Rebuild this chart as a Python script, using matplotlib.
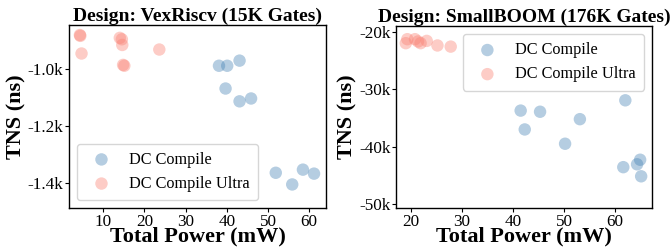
import numpy as np
import matplotlib
matplotlib.use("Agg")
import matplotlib.pyplot as plt
from matplotlib.ticker import FuncFormatter

plt.rcParams["font.family"] = ["Liberation Serif", "DejaVu Serif"]

# ---------------------------------------------------------------------------
# Data
# ---------------------------------------------------------------------------
VEX_DC_POWER = [38.1, 40.1, 43.1, 39.7, 43.1, 45.9, 51.9, 55.9, 58.5, 61.2]
VEX_DC_TNS = [-988, -988, -970, -1068, -1113, -1103, -1364, -1405, -1353, -1367]
VEX_ULTRA_POWER = [4.3, 4.4, 4.7, 14.0, 14.5, 14.6, 14.8, 15.1, 23.6]
VEX_ULTRA_TNS = [-880, -883, -945, -890, -895, -915, -985, -988, -931]

BOOM_DC_POWER = [41.5, 42.3, 45.3, 53.1, 50.2, 62.0, 61.6, 64.3, 64.9, 65.1]
BOOM_DC_TNS = [-33700, -37000, -33900, -35200, -39500, -31900, -43600, -43100, -42300, -45200]
BOOM_ULTRA_POWER = [19.0, 19.3, 20.8, 21.4, 21.9, 23.1, 25.2, 27.8]
BOOM_ULTRA_TNS = [-21900, -21200, -21200, -21600, -21900, -21500, -22300, -22500]

TITLES = ["Design: VexRiscv (15K Gates)", "Design: SmallBOOM (176K Gates)"]
LABELS = ["DC Compile", "DC Compile Ultra"]


def fmt_vex(v, _):
    return f"{v / 1000:.1f}k"


def fmt_boom(v, _):
    return f"{v / 1000:.0f}k"


fig = plt.figure(figsize=(6.71, 2.48), dpi=100)
ax1 = fig.add_axes([0.1028, 0.161, 0.383, 0.738])
ax2 = fig.add_axes([0.590, 0.161, 0.3815, 0.734])

panels = [
    (ax1, VEX_DC_POWER, VEX_DC_TNS, VEX_ULTRA_POWER, VEX_ULTRA_TNS,
     (1.65, 64.1), (-1488, -845), [-1400, -1200, -1000], fmt_vex, "lower left"),
    (ax2, BOOM_DC_POWER, BOOM_DC_TNS, BOOM_ULTRA_POWER, BOOM_ULTRA_TNS,
     (17.06, 67.2), (-50760, -18900), [-50000, -40000, -30000, -20000], fmt_boom, "upper right"),
]

for i, (ax, dx, dy, ux, uy, xl, yl, yt, fmt, loc) in enumerate(panels):
    ax.scatter(dx, dy, s=80, color="steelblue", alpha=0.4, edgecolors="none", label=LABELS[0])
    ax.scatter(ux, uy, s=80, color="salmon", alpha=0.4, edgecolors="none", label=LABELS[1])
    ax.set_xlim(*xl)
    ax.set_ylim(*yl)
    ax.set_xticks([10, 20, 30, 40, 50, 60] if i == 0 else [20, 30, 40, 50, 60])
    ax.set_yticks(yt)
    ax.yaxis.set_major_formatter(FuncFormatter(fmt))
    ax.tick_params(labelsize=12.3, length=3, width=0.8, pad=1)
    ax.set_xlabel("Total Power (mW)", fontsize=16, fontweight="bold", labelpad=-2)
    ax.set_ylabel("TNS (ns)", fontsize=16, fontweight="bold", labelpad=1)
    ax.set_title(TITLES[i], fontsize=14, fontweight="bold", pad=2)
    for sp in ax.spines.values():
        sp.set_linewidth(1.0)
    ax.legend(loc=loc, fontsize=11.7, handletextpad=0.7, borderpad=0.5,
              labelspacing=0.5)

fig.savefig("out.png", dpi=100)
plt.close(fig)
